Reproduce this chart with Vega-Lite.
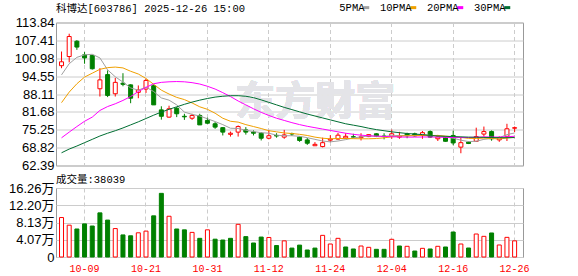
{
  "$schema": "https://vega.github.io/schema/vega-lite/v6.json",
  "background": "white",
  "padding": {"left": 0, "top": 1.5, "right": 0, "bottom": 0},
  "spacing": 0.5,
  "config": {"view": {"stroke": "#999999", "strokeWidth": 1}},
  "data": {"values": [
    {"d":"09-26","o":98.3,"h":103.4,"l":97.4,"c":99.7,"v":93000,"vd":"up","m5":95.0,"m10":85.0,"m20":72.35,"m30":66.96},
    {"d":"09-29","o":101.6,"h":109.8,"l":99.5,"c":108.8,"v":75000,"vd":"up","m5":99.0,"m10":88.8,"m20":74.4,"m30":68.3},
    {"d":"09-30","o":107.1,"h":107.5,"l":104.0,"c":105.0,"v":66000,"vd":"dn","m5":101.3,"m10":91.8,"m20":76.4,"m30":69.4},
    {"d":"10-09","o":102.2,"h":103.2,"l":99.0,"c":101.1,"v":78000,"vd":"dn","m5":102.2,"m10":94.2,"m20":78.3,"m30":70.6},
    {"d":"10-10","o":102.0,"h":102.2,"l":96.9,"c":97.2,"v":73000,"vd":"dn","m5":102.4,"m10":95.6,"m20":79.8,"m30":71.8},
    {"d":"10-13","o":90.0,"h":97.4,"l":87.2,"c":93.2,"v":104000,"vd":"dn","m5":101.1,"m10":97.0,"m20":82.2,"m30":73.0},
    {"d":"10-14","o":95.1,"h":96.6,"l":87.0,"c":87.6,"v":87000,"vd":"dn","m5":96.8,"m10":97.6,"m20":83.6,"m30":74.0},
    {"d":"10-15","o":88.2,"h":93.9,"l":87.2,"c":92.3,"v":67000,"vd":"up","m5":94.3,"m10":97.8,"m20":84.6,"m30":74.9},
    {"d":"10-16","o":92.0,"h":95.6,"l":90.9,"c":91.6,"v":52000,"vd":"dn","m5":92.4,"m10":97.5,"m20":85.8,"m30":75.9},
    {"d":"10-17","o":91.4,"h":91.6,"l":84.8,"c":86.6,"v":50000,"vd":"dn","m5":90.3,"m10":96.3,"m20":87.2,"m30":77.0},
    {"d":"10-20","o":88.7,"h":91.2,"l":86.6,"c":89.6,"v":57000,"vd":"up","m5":89.5,"m10":95.3,"m20":89.0,"m30":78.1},
    {"d":"10-21","o":89.9,"h":93.6,"l":88.5,"c":93.0,"v":61000,"vd":"up","m5":90.6,"m10":93.7,"m20":90.5,"m30":79.3},
    {"d":"10-22","o":91.1,"h":91.6,"l":84.2,"c":84.2,"v":97000,"vd":"dn","m5":89.0,"m10":91.6,"m20":91.8,"m30":80.5},
    {"d":"10-23","o":82.4,"h":83.7,"l":78.9,"c":80.1,"v":150000,"vd":"dn","m5":86.7,"m10":89.5,"m20":92.3,"m30":81.6},
    {"d":"10-24","o":79.8,"h":83.9,"l":79.6,"c":82.8,"v":96000,"vd":"up","m5":85.9,"m10":88.1,"m20":92.5,"m30":82.6},
    {"d":"10-27","o":83.0,"h":83.4,"l":79.8,"c":81.0,"v":66000,"vd":"dn","m5":84.2,"m10":86.9,"m20":92.6,"m30":83.5},
    {"d":"10-28","o":80.1,"h":81.0,"l":78.8,"c":79.9,"v":64000,"vd":"dn","m5":81.6,"m10":86.1,"m20":92.5,"m30":84.4},
    {"d":"10-29","o":79.4,"h":81.0,"l":78.8,"c":80.4,"v":58000,"vd":"up","m5":80.8,"m10":84.9,"m20":92.2,"m30":85.2},
    {"d":"10-30","o":80.4,"h":81.0,"l":77.0,"c":77.0,"v":44000,"vd":"dn","m5":80.2,"m10":83.5,"m20":91.7,"m30":85.9},
    {"d":"10-31","o":78.6,"h":79.6,"l":77.4,"c":77.6,"v":64000,"vd":"up","m5":79.2,"m10":82.6,"m20":90.9,"m30":86.5},
    {"d":"11-03","o":77.4,"h":78.0,"l":75.6,"c":76.2,"v":42000,"vd":"dn","m5":78.2,"m10":81.2,"m20":89.9,"m30":87.0},
    {"d":"11-04","o":76.0,"h":76.2,"l":73.2,"c":74.4,"v":40000,"vd":"dn","m5":77.1,"m10":79.4,"m20":88.6,"m30":87.3},
    {"d":"11-05","o":73.6,"h":74.6,"l":72.8,"c":74.0,"v":44000,"vd":"dn","m5":75.8,"m10":78.3,"m20":87.2,"m30":87.5},
    {"d":"11-06","o":74.4,"h":76.8,"l":72.8,"c":76.4,"v":77000,"vd":"up","m5":75.7,"m10":78.0,"m20":85.6,"m30":87.5},
    {"d":"11-07","o":75.2,"h":76.2,"l":73.5,"c":74.4,"v":48000,"vd":"dn","m5":75.1,"m10":77.1,"m20":84.2,"m30":87.3},
    {"d":"11-10","o":74.4,"h":75.0,"l":73.2,"c":74.0,"v":33000,"vd":"dn","m5":74.6,"m10":76.4,"m20":82.8,"m30":86.8},
    {"d":"11-11","o":74.0,"h":74.4,"l":71.4,"c":72.2,"v":47000,"vd":"dn","m5":74.2,"m10":75.7,"m20":81.5,"m30":86.0},
    {"d":"11-12","o":72.2,"h":75.2,"l":71.8,"c":73.1,"v":46000,"vd":"up","m5":74.0,"m10":74.9,"m20":80.4,"m30":85.1},
    {"d":"11-13","o":73.2,"h":74.0,"l":72.4,"c":73.0,"v":27000,"vd":"dn","m5":73.3,"m10":74.5,"m20":79.4,"m30":84.2},
    {"d":"11-14","o":72.6,"h":75.2,"l":72.0,"c":73.4,"v":38000,"vd":"up","m5":73.1,"m10":74.1,"m20":78.6,"m30":83.3},
    {"d":"11-17","o":73.85,"h":74.2,"l":73.0,"c":73.75,"v":21000,"vd":"dn","m5":73.1,"m10":73.9,"m20":77.8,"m30":82.5},
    {"d":"11-18","o":72.6,"h":72.8,"l":70.9,"c":71.4,"v":28000,"vd":"dn","m5":72.9,"m10":73.6,"m20":77.1,"m30":81.7},
    {"d":"11-19","o":71.6,"h":72.3,"l":69.8,"c":70.4,"v":16500,"vd":"dn","m5":72.4,"m10":73.2,"m20":76.5,"m30":80.9},
    {"d":"11-20","o":69.5,"h":70.8,"l":69.4,"c":70.0,"v":21000,"vd":"dn","m5":71.8,"m10":72.6,"m20":76.0,"m30":80.2},
    {"d":"11-21","o":69.2,"h":72.4,"l":68.9,"c":70.6,"v":51000,"vd":"up","m5":71.2,"m10":72.2,"m20":75.5,"m30":79.5},
    {"d":"11-24","o":71.5,"h":73.3,"l":70.8,"c":71.9,"v":30600,"vd":"up","m5":70.9,"m10":72.0,"m20":75.0,"m30":78.8},
    {"d":"11-25","o":71.9,"h":74.1,"l":71.7,"c":73.3,"v":44000,"vd":"up","m5":71.2,"m10":72.1,"m20":74.5,"m30":78.1},
    {"d":"11-26","o":72.3,"h":74.0,"l":72.0,"c":72.9,"v":23600,"vd":"dn","m5":71.7,"m10":72.1,"m20":74.0,"m30":77.4},
    {"d":"11-27","o":72.75,"h":73.8,"l":72.2,"c":72.6,"v":18900,"vd":"dn","m5":72.3,"m10":72.05,"m20":73.6,"m30":76.9},
    {"d":"11-28","o":72.4,"h":74.0,"l":71.4,"c":72.7,"v":25900,"vd":"up","m5":72.7,"m10":72.0,"m20":73.3,"m30":76.4},
    {"d":"12-01","o":72.8,"h":73.7,"l":72.6,"c":73.5,"v":22800,"vd":"up","m5":73.0,"m10":72.0,"m20":73.1,"m30":75.8},
    {"d":"12-02","o":73.8,"h":74.0,"l":72.6,"c":72.9,"v":18100,"vd":"dn","m5":72.9,"m10":72.1,"m20":72.95,"m30":75.3},
    {"d":"12-03","o":73.0,"h":74.0,"l":71.8,"c":72.8,"v":18100,"vd":"dn","m5":72.9,"m10":72.35,"m20":72.85,"m30":74.9},
    {"d":"12-04","o":72.9,"h":75.3,"l":72.0,"c":73.8,"v":41700,"vd":"up","m5":73.1,"m10":72.7,"m20":72.75,"m30":74.5},
    {"d":"12-05","o":72.6,"h":74.5,"l":72.0,"c":73.0,"v":25900,"vd":"dn","m5":73.2,"m10":72.95,"m20":72.65,"m30":74.2},
    {"d":"12-08","o":73.8,"h":74.2,"l":72.2,"c":73.1,"v":25200,"vd":"up","m5":73.1,"m10":73.1,"m20":72.6,"m30":73.9},
    {"d":"12-09","o":73.8,"h":74.2,"l":72.8,"c":73.05,"v":14100,"vd":"dn","m5":73.2,"m10":73.1,"m20":72.62,"m30":73.7},
    {"d":"12-10","o":73.2,"h":74.8,"l":72.0,"c":74.2,"v":20400,"vd":"up","m5":73.5,"m10":73.25,"m20":72.65,"m30":73.5},
    {"d":"12-11","o":74.6,"h":75.0,"l":72.4,"c":72.6,"v":18900,"vd":"dn","m5":73.2,"m10":73.2,"m20":72.65,"m30":73.2},
    {"d":"12-12","o":72.0,"h":73.4,"l":71.2,"c":72.7,"v":25200,"vd":"up","m5":73.1,"m10":73.2,"m20":72.62,"m30":73.0},
    {"d":"12-15","o":72.5,"h":73.0,"l":71.0,"c":71.1,"v":23600,"vd":"dn","m5":72.7,"m10":72.95,"m20":72.5,"m30":72.9},
    {"d":"12-16","o":73.2,"h":74.9,"l":69.7,"c":70.5,"v":58900,"vd":"dn","m5":72.2,"m10":72.7,"m20":72.45,"m30":72.8},
    {"d":"12-17","o":69.0,"h":72.7,"l":66.8,"c":70.6,"v":30600,"vd":"up","m5":71.5,"m10":72.5,"m20":72.45,"m30":72.7},
    {"d":"12-18","o":70.8,"h":71.0,"l":70.1,"c":70.3,"v":21200,"vd":"dn","m5":71.0,"m10":72.15,"m20":72.46,"m30":72.6},
    {"d":"12-19","o":71.1,"h":76.0,"l":70.9,"c":72.8,"v":54200,"vd":"up","m5":71.1,"m10":72.1,"m20":72.57,"m30":72.55},
    {"d":"12-22","o":73.7,"h":76.4,"l":72.8,"c":74.6,"v":48700,"vd":"up","m5":71.8,"m10":72.25,"m20":72.7,"m30":72.5},
    {"d":"12-23","o":74.6,"h":75.0,"l":71.3,"c":72.0,"v":56600,"vd":"dn","m5":72.1,"m10":72.1,"m20":72.64,"m30":72.45},
    {"d":"12-24","o":71.6,"h":72.9,"l":70.9,"c":72.4,"v":28300,"vd":"up","m5":72.4,"m10":71.95,"m20":72.62,"m30":72.4},
    {"d":"12-25","o":72.9,"h":77.4,"l":71.2,"c":75.6,"v":46300,"vd":"up","m5":73.5,"m10":72.25,"m20":72.74,"m30":72.4},
    {"d":"12-26","o":75.8,"h":76.4,"l":74.4,"c":76.0,"v":38039,"vd":"up","m5":74.1,"m10":72.55,"m20":72.9,"m30":72.45}
  ]},
  "vconcat": [
    {
      "width": 467,
      "height": 143,
      "title": {"text": "科博达[603786] 2025-12-26 15:00", "anchor": "start", "frame": "group", "font": "Liberation Mono, Noto Sans CJK SC", "fontSize": 10.5, "fontWeight": "normal", "color": "#000000", "offset": 2},
      "encoding": {
        "x": {"field": "d", "type": "ordinal",
          "scale": {"paddingInner": 0, "paddingOuter": 0.405, "align": 0.27},
          "axis": {"values": ["10-09","10-21","10-31","11-12","11-24","12-04","12-16","12-26"], "labels": false, "ticks": false, "domain": false, "grid": true, "gridDash": [4,3], "gridColor": "#cccccc", "bandPosition": 0.5, "title": null, "minExtent": 0, "maxExtent": 0}}
      },
      "layer": [
        {
          "mark": {"type": "text", "text": "东方财富", "font": "Noto Sans CJK SC", "fontSize": 40, "fontWeight": "bold", "color": "#e4e4e8", "dx": 8, "baseline": "alphabetic"},
          "encoding": {"x": {"datum": "11-19", "type": "ordinal"},
            "y": {"datum": 80.7, "type": "quantitative", "scale": {"domain": [62.39, 113.84], "nice": false, "zero": false},
              "axis": {"values": [62.39, 68.82, 75.25, 81.68, 88.11, 94.55, 100.98, 107.41, 113.84], "format": ".2f", "title": null, "grid": true, "gridColor": "#cccccc", "ticks": false, "domain": false, "labelFont": "Liberation Sans", "labelFontSize": 13, "labelColor": "#000000", "labelPadding": 2, "labelBaseline": "middle", "minExtent": 55, "maxExtent": 55, "labelOverlap": false, "labelFlush": false, "labelBound": false}}}
        },
        {
          "mark": {"type": "rule", "strokeWidth": 1},
          "encoding": {
            "x": {"field": "d", "type": "ordinal", "bandPosition": 0.5},
            "y": {"field": "l", "type": "quantitative", "scale": {"domain": [62.39, 113.84], "nice": false, "zero": false},
              "axis": {"values": [62.39, 68.82, 75.25, 81.68, 88.11, 94.55, 100.98, 107.41, 113.84], "format": ".2f", "title": null, "grid": true, "gridColor": "#cccccc", "ticks": false, "domain": false, "labelFont": "Liberation Sans", "labelFontSize": 13, "labelColor": "#000000", "labelPadding": 2, "labelBaseline": "middle", "minExtent": 55, "maxExtent": 55, "labelOverlap": false, "labelFlush": false, "labelBound": false}},
            "y2": {"field": "h"},
            "color": {"condition": {"test": "datum.c >= datum.o", "value": "#ff0000"}, "value": "#008000"}
          }
        },
        {
          "mark": {"type": "bar", "size": 4, "strokeWidth": 1},
          "encoding": {
            "y": {"field": "o", "type": "quantitative", "scale": {"domain": [62.39, 113.84], "nice": false, "zero": false},
              "axis": {"values": [62.39, 68.82, 75.25, 81.68, 88.11, 94.55, 100.98, 107.41, 113.84], "format": ".2f", "title": null, "grid": true, "gridColor": "#cccccc", "ticks": false, "domain": false, "labelFont": "Liberation Sans", "labelFontSize": 13, "labelColor": "#000000", "labelPadding": 2, "labelBaseline": "middle", "minExtent": 55, "maxExtent": 55, "labelOverlap": false, "labelFlush": false, "labelBound": false}},
            "y2": {"field": "c"},
            "fill": {"condition": {"test": "datum.c >= datum.o", "value": "#ffffff"}, "value": "#008000"},
            "stroke": {"condition": {"test": "datum.c >= datum.o", "value": "#ff0000"}, "value": "#008000"}
          }
        },
        {
          "mark": {"type": "line", "strokeWidth": 1},
          "encoding": {
            "y": {"field": "m5", "type": "quantitative", "scale": {"domain": [62.39, 113.84], "nice": false, "zero": false},
              "axis": {"values": [62.39, 68.82, 75.25, 81.68, 88.11, 94.55, 100.98, 107.41, 113.84], "format": ".2f", "title": null, "grid": true, "gridColor": "#cccccc", "ticks": false, "domain": false, "labelFont": "Liberation Sans", "labelFontSize": 13, "labelColor": "#000000", "labelPadding": 2, "labelBaseline": "middle", "minExtent": 55, "maxExtent": 55, "labelOverlap": false, "labelFlush": false, "labelBound": false}},
            "color": {"datum": "5PMA", "type": "nominal",
              "scale": {"domain": ["5PMA","10PMA","20PMA","30PMA"], "range": ["#a0a0a0","#f0a000","#ff00ff","#006e32"]},
              "legend": {"orient": "none", "legendX": 305, "legendY": -20.5, "direction": "horizontal", "title": null, "labelFont": "Liberation Mono", "labelFontSize": 10.5, "labelColor": "#000000", "symbolType": "stroke", "symbolSize": 36, "symbolStrokeWidth": 3, "labelAlign": "right", "labelOffset": -7, "columnPadding": 3}}
          }
        },
        {
          "mark": {"type": "line", "strokeWidth": 1},
          "encoding": {"y": {"field": "m10", "type": "quantitative", "scale": {"domain": [62.39, 113.84], "nice": false, "zero": false},
              "axis": {"values": [62.39, 68.82, 75.25, 81.68, 88.11, 94.55, 100.98, 107.41, 113.84], "format": ".2f", "title": null, "grid": true, "gridColor": "#cccccc", "ticks": false, "domain": false, "labelFont": "Liberation Sans", "labelFontSize": 13, "labelColor": "#000000", "labelPadding": 2, "labelBaseline": "middle", "minExtent": 55, "maxExtent": 55, "labelOverlap": false, "labelFlush": false, "labelBound": false}},
            "color": {"datum": "10PMA", "type": "nominal"}}
        },
        {
          "mark": {"type": "line", "strokeWidth": 1},
          "encoding": {"y": {"field": "m20", "type": "quantitative", "scale": {"domain": [62.39, 113.84], "nice": false, "zero": false},
              "axis": {"values": [62.39, 68.82, 75.25, 81.68, 88.11, 94.55, 100.98, 107.41, 113.84], "format": ".2f", "title": null, "grid": true, "gridColor": "#cccccc", "ticks": false, "domain": false, "labelFont": "Liberation Sans", "labelFontSize": 13, "labelColor": "#000000", "labelPadding": 2, "labelBaseline": "middle", "minExtent": 55, "maxExtent": 55, "labelOverlap": false, "labelFlush": false, "labelBound": false}},
            "color": {"datum": "20PMA", "type": "nominal"}}
        },
        {
          "mark": {"type": "line", "strokeWidth": 1},
          "encoding": {"y": {"field": "m30", "type": "quantitative", "scale": {"domain": [62.39, 113.84], "nice": false, "zero": false},
              "axis": {"values": [62.39, 68.82, 75.25, 81.68, 88.11, 94.55, 100.98, 107.41, 113.84], "format": ".2f", "title": null, "grid": true, "gridColor": "#cccccc", "ticks": false, "domain": false, "labelFont": "Liberation Sans", "labelFontSize": 13, "labelColor": "#000000", "labelPadding": 2, "labelBaseline": "middle", "minExtent": 55, "maxExtent": 55, "labelOverlap": false, "labelFlush": false, "labelBound": false}},
            "color": {"datum": "30PMA", "type": "nominal"}}
        }
      ]
    },
    {
      "width": 467,
      "height": 69,
      "title": {"text": "成交量:38039", "anchor": "start", "frame": "group", "font": "Liberation Mono, Noto Sans CJK SC", "fontSize": 10.5, "fontWeight": "normal", "color": "#000000", "offset": -3},
      "mark": {"type": "bar", "size": 4, "strokeWidth": 1},
      "encoding": {
        "x": {"field": "d", "type": "ordinal",
          "scale": {"paddingInner": 0, "paddingOuter": 0.405, "align": 0.27},
          "axis": {"values": ["10-09","10-21","10-31","11-12","11-24","12-04","12-16","12-26"], "labelColor": "#ff0000", "labelFont": "Liberation Mono", "labelFontSize": 10, "labelAngle": 0, "ticks": false, "domain": false, "grid": true, "gridDash": [4,3], "gridColor": "#cccccc", "bandPosition": 0.5, "labelPadding": 6, "title": null}},
        "y": {"field": "v", "type": "quantitative", "scale": {"domain": [0, 162600], "nice": false, "zero": true},
          "axis": {"values": [0, 40700, 81300, 122000, 162600], "labelExpr": "datum.value == 0 ? '0' : format(datum.value / 10000, '.2f') + '万'", "title": null, "grid": true, "gridColor": "#cccccc", "ticks": false, "domain": false, "labelFont": "Liberation Sans, Noto Sans CJK SC", "labelFontSize": 13, "labelColor": "#000000", "labelPadding": 2, "labelBaseline": "middle", "minExtent": 55, "maxExtent": 55, "labelOverlap": false, "labelFlush": false, "labelBound": false}},
        "fill": {"condition": {"test": "datum.vd == 'up'", "value": "#ffffff"}, "value": "#008000"},
        "stroke": {"condition": {"test": "datum.vd == 'up'", "value": "#ff0000"}, "value": "#008000"}
      }
    }
  ]
}
